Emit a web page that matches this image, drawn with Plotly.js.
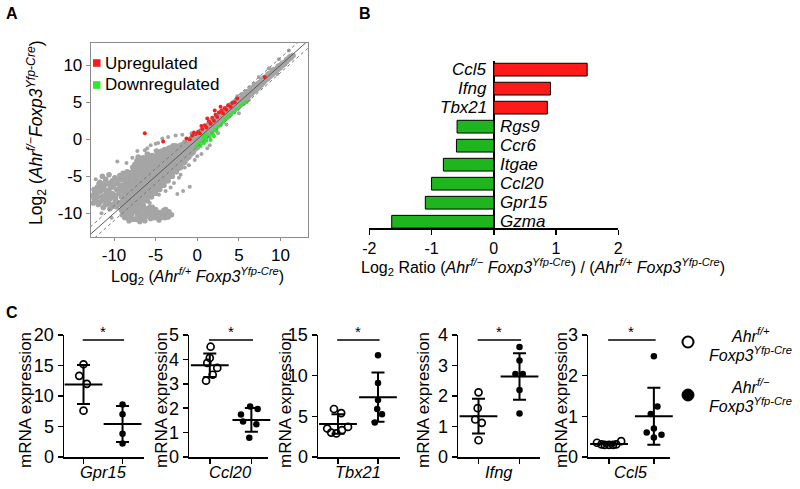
<!DOCTYPE html>
<html>
<head>
<meta charset="utf-8">
<script src="https://cdn.plot.ly/plotly-3.0.1.min.js"></script>
<style>html,body{margin:0;padding:0;background:#fff;}#chart{width:800px;height:489px;}</style>
</head>
<body>
<div id="chart"></div>
<script>
// ---------------- Panel A data (log2 expression, scatter) ----------------
const grayBand = [
[-9.0,-10.2],[-9.1,-9.6],[-8.9,-9.0],[-9.0,-8.4],[-9.1,-7.8],[-8.9,-7.0],[-9.0,-6.2],[-9.1,-5.4],[-8.9,-4.6],
[-8.5,-10.0],[-8.6,-9.3],[-8.4,-8.7],[-8.5,-8.1],[-8.6,-7.4],[-8.4,-6.7],[-8.5,-6.0],[-8.6,-5.2],[-8.4,-4.4],
[-8.0,-10.0],[-8.1,-9.3],[-7.9,-8.6],[-8.0,-8.0],[-8.1,-7.3],[-7.9,-6.6],[-8.0,-5.9],[-8.1,-5.2],[-7.9,-4.5],
[-7.5,-9.8],[-7.6,-9.0],[-7.4,-8.3],[-7.5,-7.6],[-7.6,-6.9],[-7.4,-6.2],[-7.5,-5.5],[-7.6,-4.8],[-7.4,-4.1],[-7.5,-3.4],
[-7.0,-9.4],[-7.1,-8.6],[-6.9,-7.9],[-7.0,-7.2],[-7.1,-6.5],[-6.9,-5.8],[-7.0,-5.1],[-7.1,-4.4],[-6.9,-3.7],[-7.0,-3.0],[-7.1,-2.4],
[-6.5,-8.9],[-6.6,-8.1],[-6.4,-7.4],[-6.5,-6.7],[-6.6,-6.0],[-6.4,-5.3],[-6.5,-4.6],[-6.6,-3.9],[-6.4,-3.2],[-6.5,-2.5],
[-6.0,-8.3],[-6.1,-7.6],[-5.9,-6.9],[-6.0,-6.2],[-6.1,-5.5],[-5.9,-4.8],[-6.0,-4.1],[-6.1,-3.4],[-5.9,-2.7],[-6.0,-2.0],
[-5.5,-7.8],[-5.6,-7.1],[-5.4,-6.4],[-5.5,-5.7],[-5.6,-5.0],[-5.4,-4.3],[-5.5,-3.6],[-5.6,-2.9],[-5.4,-2.2],
[-5.0,-7.3],[-5.1,-6.6],[-4.9,-5.9],[-5.0,-5.2],[-5.1,-4.5],[-4.9,-3.8],[-5.0,-3.1],[-5.1,-2.4],[-4.9,-1.6],
[-4.5,-6.8],[-4.6,-6.1],[-4.4,-5.4],[-4.5,-4.8],[-4.6,-4.2],[-4.4,-3.6],[-4.5,-3.0],[-4.6,-2.3],[-4.4,-1.7],
[-4.0,-6.2],[-4.1,-5.6],[-3.9,-5.0],[-4.0,-4.4],[-4.1,-3.8],[-3.9,-3.2],[-4.0,-2.6],[-4.1,-2.0],[-3.9,-1.4],
[-3.5,-5.6],[-3.6,-5.0],[-3.4,-4.4],[-3.5,-3.9],[-3.6,-3.4],[-3.4,-2.9],[-3.5,-2.3],[-3.6,-1.7],[-3.4,-1.2],
[-3.0,-5.0],[-3.1,-4.4],[-2.9,-3.9],[-3.0,-3.4],[-3.1,-2.9],[-2.9,-2.4],[-3.0,-1.9],[-3.1,-1.4],[-2.9,-0.9],
[-2.5,-4.4],[-2.6,-3.8],[-2.4,-3.3],[-2.5,-2.8],[-2.6,-2.4],[-2.4,-1.9],[-2.5,-1.4],[-2.6,-0.9],
[-2.0,-3.8],[-2.1,-3.2],[-1.9,-2.7],[-2.0,-2.2],[-2.1,-1.8],[-1.9,-1.3],[-2.0,-0.8],
[-1.5,-3.1],[-1.6,-2.6],[-1.4,-2.1],[-1.5,-1.7],[-1.6,-1.3],[-1.4,-0.8],[-1.5,-0.4],
[-1.0,-2.4],[-1.1,-1.9],[-0.9,-1.5],[-1.0,-1.1],[-1.1,-0.7],[-0.9,-0.3],
[-0.5,-1.8],[-0.6,-1.3],[-0.4,-0.9],[-0.5,-0.5],[-0.6,-0.1],[-0.4,0.3],
[0.0,-1.1],[-0.1,-0.6],[0.1,-0.2],[0.0,0.2],[-0.1,0.6],
[0.5,-0.4],[0.4,0.0],[0.6,0.4],[0.5,0.8],[0.4,1.1],
[1.0,0.2],[0.9,0.6],[1.1,1.0],[1.0,1.3],[0.9,1.6],
[1.5,0.8],[1.4,1.2],[1.6,1.5],[1.5,1.8],[1.4,2.1],
[2.0,1.3],[1.9,1.7],[2.1,2.0],[2.0,2.3],[1.9,2.6],
[2.5,1.9],[2.4,2.2],[2.6,2.5],[2.5,2.8],[2.4,3.1],
[3.0,2.4],[2.9,2.7],[3.1,3.0],[3.0,3.3],[2.9,3.6],
[3.5,2.9],[3.4,3.2],[3.6,3.5],[3.5,3.8],[3.4,4.1],
[4.0,3.4],[3.9,3.7],[4.1,4.0],[4.0,4.3],[3.9,4.6],
[4.5,4.0],[4.4,4.3],[4.6,4.5],[4.5,4.8],[4.4,5.0],
[5.0,4.5],[4.9,4.8],[5.1,5.0],[5.0,5.2],[4.9,5.5],
[5.5,5.0],[5.4,5.3],[5.6,5.5],[5.5,5.8],[5.4,6.0],
[6.0,5.6],[5.9,5.8],[6.1,6.0],[6.0,6.2],[5.9,6.4],
[6.5,6.1],[6.4,6.3],[6.6,6.5],[6.5,6.7],[6.4,6.9],
[7.0,6.6],[6.9,6.8],[7.1,7.0],[7.0,7.2],[6.9,7.4],
[7.5,7.1],[7.4,7.3],[7.6,7.5],[7.5,7.7],
[8.0,7.7],[7.9,7.9],[8.1,8.1],[8.0,8.3],
[8.5,8.2],[8.4,8.4],[8.6,8.6],[8.5,8.8],
[9.0,8.7],[8.9,8.9],[9.1,9.1],[9.0,9.3],
[9.5,9.2],[9.4,9.4],[9.6,9.6],
[10.0,9.7],[9.9,9.9],[10.1,10.1],
[10.5,10.2],[10.6,10.5],[11.0,10.8],[11.1,11.1],[11.5,11.3],
[-8.75,-9.7],[-8.75,-9.0],[-8.75,-8.3],[-8.75,-7.6],[-8.75,-6.9],[-8.75,-6.2],[-8.75,-5.5],[-8.75,-4.8],
[-8.25,-9.6],[-8.25,-8.9],[-8.25,-8.2],[-8.25,-7.5],[-8.25,-6.8],[-8.25,-6.1],[-8.25,-5.4],[-8.25,-4.7],
[-7.75,-9.4],[-7.75,-8.7],[-7.75,-8.0],[-7.75,-7.3],[-7.75,-6.6],[-7.75,-5.9],[-7.75,-5.2],[-7.75,-4.5],[-7.75,-3.8],
[-7.25,-9.1],[-7.25,-8.4],[-7.25,-7.7],[-7.25,-7.0],[-7.25,-6.3],[-7.25,-5.6],[-7.25,-4.9],[-7.25,-4.2],[-7.25,-3.5],[-7.25,-2.9],
[-6.75,-8.7],[-6.75,-8.0],[-6.75,-7.3],[-6.75,-6.6],[-6.75,-5.9],[-6.75,-5.2],[-6.75,-4.5],[-6.75,-3.8],[-6.75,-3.1],[-6.75,-2.6],
[-6.25,-8.2],[-6.25,-7.5],[-6.25,-6.8],[-6.25,-6.1],[-6.25,-5.4],[-6.25,-4.7],[-6.25,-4.0],[-6.25,-3.3],[-6.25,-2.6],
[-5.75,-7.7],[-5.75,-7.0],[-5.75,-6.3],[-5.75,-5.6],[-5.75,-4.9],[-5.75,-4.2],[-5.75,-3.5],[-5.75,-2.8],[-5.75,-2.2],
[-5.25,-7.2],[-5.25,-6.5],[-5.25,-5.8],[-5.25,-5.1],[-5.25,-4.4],[-5.25,-3.7],[-5.25,-3.0],[-5.25,-2.3],
[-4.75,-6.7],[-4.75,-6.0],[-4.75,-5.4],[-4.75,-4.8],[-4.75,-4.2],[-4.75,-3.5],[-4.75,-2.8],[-4.75,-2.1],
[-4.25,-6.2],[-4.25,-5.6],[-4.25,-5.0],[-4.25,-4.4],[-4.25,-3.8],[-4.25,-3.2],[-4.25,-2.6],[-4.25,-2.0],[-4.25,-1.6],
[-3.75,-5.6],[-3.75,-5.0],[-3.75,-4.5],[-3.75,-3.9],[-3.75,-3.3],[-3.75,-2.7],[-3.75,-2.1],[-3.75,-1.5],
[-3.25,-5.0],[-3.25,-4.5],[-3.25,-3.9],[-3.25,-3.4],[-3.25,-2.9],[-3.25,-2.4],[-3.25,-1.8],[-3.25,-1.2],
[-2.75,-4.4],[-2.75,-3.9],[-2.75,-3.4],[-2.75,-2.9],[-2.75,-2.4],[-2.75,-1.9],[-2.75,-1.4],[-2.75,-1.0],
[-2.25,-3.9],[-2.25,-3.3],[-2.25,-2.8],[-2.25,-2.4],[-2.25,-2.0],[-2.25,-1.5],[-2.25,-1.0],
[-1.75,-3.2],[-1.75,-2.7],[-1.75,-2.3],[-1.75,-1.9],[-1.75,-1.5],[-1.75,-1.1],[-1.75,-0.7],
[-1.25,-2.6],[-1.25,-2.1],[-1.25,-1.7],[-1.25,-1.3],[-1.25,-0.9],[-1.25,-0.5],
[-0.75,-2.0],[-0.75,-1.5],[-0.75,-1.1],[-0.75,-0.7],[-0.75,-0.3],[-0.75,0.1],
[-0.25,-1.3],[-0.25,-0.9],[-0.25,-0.5],[-0.25,-0.1],[-0.25,0.3],
[0.25,-0.7],[0.25,-0.3],[0.25,0.1],[0.25,0.5],[0.25,0.8],
[0.75,-0.1],[0.75,0.3],[0.75,0.7],[0.75,1.0],[0.75,1.3],
[1.25,0.5],[1.25,0.9],[1.25,1.2],[1.25,1.5],[1.25,1.8],
[1.75,1.1],[1.75,1.4],[1.75,1.7],[1.75,2.0],[1.75,2.3],
[2.25,1.6],[2.25,1.9],[2.25,2.2],[2.25,2.5],[2.25,2.8],
[2.75,2.2],[2.75,2.5],[2.75,2.7],[2.75,3.0],[2.75,3.3],
[3.25,2.7],[3.25,3.0],[3.25,3.2],[3.25,3.5],[3.25,3.8],
[3.75,3.2],[3.75,3.5],[3.75,3.7],[3.75,4.0],[3.75,4.3],
[4.25,3.8],[4.25,4.0],[4.25,4.2],[4.25,4.5],[4.25,4.7],
[4.75,4.3],[4.75,4.5],[4.75,4.7],[4.75,5.0],[4.75,5.2],
[5.25,4.8],[5.25,5.0],[5.25,5.3],[5.25,5.5],
[5.75,5.3],[5.75,5.6],[5.75,5.8],[5.75,6.0],
[6.25,5.9],[6.25,6.1],[6.25,6.3],[6.25,6.5],
[6.75,6.4],[6.75,6.6],[6.75,6.8],[6.75,7.0],
[7.25,6.9],[7.25,7.1],[7.25,7.3],[7.25,7.5],
[7.75,7.4],[7.75,7.6],[7.75,7.8],[7.75,8.0],
[8.25,8.0],[8.25,8.2],[8.25,8.4],[8.75,8.5],[8.75,8.7],[8.75,8.9],
[9.25,9.0],[9.25,9.2],[9.25,9.4],[9.75,9.5],[9.75,9.7],[9.75,9.9],
[10.25,10.0],[10.25,10.3],[10.75,10.5],[10.75,10.8],[11.25,11.0],[11.25,11.2]
];
const grayBlob = [
[-12.3,-7.2],[-12.0,-6.5],[-12.0,-7.8],[-11.7,-5.8],[-11.6,-7.0],[-11.5,-8.3],[-11.2,-6.3],[-11.1,-7.6],[-11.0,-5.4],[-10.8,-8.7],
[-10.7,-6.9],[-10.5,-5.9],[-10.4,-8.0],[-10.3,-7.3],[-10.1,-6.4],[-10.0,-9.0],[-9.9,-5.2],[-9.8,-7.8],[-9.7,-6.8],[-9.6,-8.5],
[-11.9,-8.8],[-12.4,-8.0],[-11.3,-9.2],[-10.6,-4.8],[-9.5,-6.0],[-10.9,-6.0],[-11.8,-6.0],[-10.2,-8.8],[-12.6,-7.6],[-11.4,-5.0],
[-12.2,-6.9],[-11.4,-7.7],[-10.9,-7.2],[-10.0,-7.5],[-9.6,-5.5],[-12.5,-8.6],[-11.0,-8.2],[-10.5,-9.4],
[-12.4,-6.8],[-12.1,-7.4],[-11.8,-7.1],[-11.6,-6.4],[-11.3,-6.8],[-11.1,-5.9],[-10.9,-7.9],[-10.6,-7.6],[-10.4,-6.5],[-10.2,-5.6],
[-10.0,-6.1],[-9.8,-8.3],[-11.7,-8.5],[-12.2,-8.3],[-11.0,-8.8],[-10.7,-8.4],[-10.3,-9.1],[-9.7,-9.1],[-9.4,-7.3],[-9.4,-8.8],
[-9.3,-4.9],[-9.3,-6.6],
[-8.7,-10.6],[-8.4,-9.6],[-8.2,-11.0],[-7.9,-10.2],[-7.6,-9.5],[-7.4,-10.8],[-7.1,-9.9],[-6.8,-10.5],[-6.6,-9.4],[-6.3,-11.0],
[-6.1,-10.0],[-5.8,-9.6],[-5.6,-10.7],[-5.3,-10.1],[-5.0,-9.5],[-4.8,-10.6],[-4.5,-9.9],[-4.2,-10.4],[-4.0,-9.6],[-3.7,-10.1],
[-3.4,-9.8],[-8.9,-9.8],[-8.0,-10.7],[-7.3,-9.3],[-6.9,-11.1],[-6.0,-9.4],[-5.4,-9.2],[-4.6,-10.9],[-3.9,-10.6],[-3.1,-10.2],
[-8.6,-10.1],[-8.3,-10.4],[-7.8,-9.7],[-7.7,-10.8],[-7.2,-10.4],[-6.9,-9.8],[-6.5,-10.2],[-6.2,-9.7],[-5.9,-10.4],[-5.5,-9.9],
[-5.2,-10.6],[-4.9,-10.1],[-4.4,-10.6],[-4.1,-9.9],[-3.8,-9.5],[-3.5,-10.5],[-8.1,-9.8],[-7.0,-10.9],[-6.4,-10.6],[-5.7,-9.2]
];
const grayOutliers = [
[-9.6,-3.0],[-8.5,-3.2],[-7.2,-1.6],[-6.3,-1.5],[-5.6,-0.8],[-5.0,-0.6],[-4.2,0.1],[-3.5,0.3],[-2.6,0.5],[-1.8,0.6],
[-7.8,-2.5],[-6.0,-1.2],[-4.7,-0.5],[-3.2,-6.5],[-2.2,-5.2],[-1.0,-3.5],[0.5,-2.0],[1.5,-0.8],[-2.0,-4.8],[-1.5,-3.8],
[2.5,0.8],[3.5,2.0],[-0.3,-2.8],[4.8,5.8],[8.6,9.6],[9.6,8.8],[11.0,12.0],[-11.5,-10.0],[-10.3,-10.6],[-12.2,-5.4],
[-4.6,-7.5],[-5.7,-8.6],[-3.8,-7.0],[-6.4,-9.0],[1.2,-1.2],[0.0,-2.3],[-2.8,-5.9],[-0.7,0.8],[5.0,3.5],[6.2,5.3],
[7.4,8.4],[9.8,10.8],[-0.9,-6.4],[-2.4,-7.4],[-1.7,-7.0]
];
const upPts = [
[-6.3,0.8],[-4.1,-0.3],[8.1,8.4],
[-1.3,0.1],[-0.9,0.0],[-0.6,0.5],[-0.2,0.7],[0.1,1.0],[0.3,0.8],[0.6,1.4],[0.9,1.9],[1.1,1.6],[1.4,2.4],
[1.6,2.1],[1.8,2.9],[2.0,2.5],[2.2,3.3],[2.4,3.0],[2.6,3.6],[2.9,3.9],[3.1,3.5],[3.3,4.2],[3.5,4.0],
[3.7,4.6],[4.0,4.4],[4.2,4.9],[4.5,5.0],[4.8,5.5],[1.2,2.8],[2.1,3.9],[0.5,1.8],[-0.4,0.9],[2.8,4.4]
];
const downPts = [
[-0.1,-1.0],[0.2,-0.6],[0.4,-0.9],[0.6,-0.3],[0.8,-0.5],[0.9,0.0],[1.1,-0.2],[1.3,0.4],[1.5,0.3],[1.7,0.9],
[1.9,0.6],[2.1,1.3],[2.3,1.1],[2.5,1.7],[2.8,1.9],[3.1,2.3],[3.4,2.7],[3.7,3.1],[4.0,3.3],[4.4,3.6],
[4.8,4.1],[5.2,4.5],[5.6,4.8],[5.9,5.0],[1.0,0.5],[1.6,-0.1],[0.7,0.3],[2.0,0.4]
];
const foldOffsets = [-1, 0, 1];
const tickValsA = [-10, -5, 0, 5, 10];
const tickTextA = ['-10', '-5', '0', '5', '10'];

// ---------------- Panel B data ----------------
const genesB = ['Ccl5', 'Ifng', 'Tbx21', 'Rgs9', 'Ccr6', 'Itgae', 'Ccl20', 'Gpr15', 'Gzma'];
const ratioB = [1.50, 0.91, 0.86, -0.59, -0.60, -0.81, -1.00, -1.10, -1.64];
const tickValsB = [-2, -1, 0, 1, 2];
const tickTextB = ['-2', '-1', '0', '1', '2'];

// ---------------- Panel C data ----------------
const genesC = ['Gpr15', 'Ccl20', 'Tbx21', 'Ifng', 'Ccl5'];
const yMaxC = [20, 5, 15, 4, 3];
const yDtickC = [5, 1, 5, 1, 1];
const wtVals = [
  [15.2, 13.3, 12.0, 7.6],
  [4.52, 4.06, 3.86, 3.65, 3.37, 3.13],
  [5.9, 5.4, 3.5, 3.7, 3.3, 2.9, 3.0],
  [2.12, 1.60, 1.23, 1.12, 0.55],
  [0.35, 0.31, 0.30, 0.30, 0.30, 0.31, 0.39]
];
const wtJitter = [
  [0, -0.11, 0.085, 0],
  [0.02, 0, -0.06, 0.18, 0.07, -0.09],
  [-0.1, 0.08, -0.27, 0.25, 0.1, -0.04, -0.17],
  [0, -0.02, -0.08, 0.08, 0],
  [-0.27, -0.17, -0.1, 0, 0.09, 0.16, 0.27]
];
const koVals = [
  [8.6, 7.0, 3.8, 2.2],
  [2.07, 1.97, 1.74, 1.45, 1.34, 0.79],
  [12.5, 9.1, 7.0, 5.9, 5.25, 4.25],
  [3.61, 3.16, 2.72, 2.72, 2.20, 1.43],
  [2.48, 1.24, 1.06, 0.70, 0.60, 0.55, 0.48]
];
const koJitter = [
  [0, 0, 0, 0],
  [-0.03, 0.15, -0.25, -0.2, 0.12, -0.05],
  [0, 0, 0, -0.02, 0.1, -0.08],
  [0, 0, -0.1, 0.08, 0, 0],
  [0, 0.08, -0.07, 0, -0.16, 0.17, 0]
];
const wtMean = [11.9, 3.76, 4.05, 1.34, 0.32];
const wtSD = [3.2, 0.48, 1.2, 0.57, 0.03];
const koMean = [5.4, 1.52, 7.36, 2.64, 1.0];
const koSD = [2.95, 0.49, 3.02, 0.76, 0.70];

// ---------------- layout helpers ----------------
const W = 800, H = 489;
const PX = v => v / W;
const PY = v => 1 - v / H;
const FONT = 'Arial, "Liberation Sans", Helvetica, sans-serif';
const RED = '#ff1a1a', GREEN_A = '#2ee82e', GREEN_B = '#1fb51f';

const traces = [];
const annotations = [];
const shapes = [];

// ---- Panel A ----
[[grayBand, 5.6], [grayBlob, 5.6], [grayOutliers, 4]].forEach(([pts, sz]) => {
  traces.push({
    type: 'scatter', mode: 'markers', xaxis: 'x', yaxis: 'y',
    x: pts.map(p => p[0]), y: pts.map(p => p[1]),
    marker: {color: '#a5a5a5', size: sz}, hoverinfo: 'skip', showlegend: false
  });
});
traces.push({
  type: 'scatter', mode: 'markers', xaxis: 'x', yaxis: 'y',
  x: upPts.map(p => p[0]), y: upPts.map(p => p[1]),
  marker: {color: RED, size: 4}, showlegend: false
});
traces.push({
  type: 'scatter', mode: 'markers', xaxis: 'x', yaxis: 'y',
  x: downPts.map(p => p[0]), y: downPts.map(p => p[1]),
  marker: {color: GREEN_A, size: 4}, showlegend: false
});
foldOffsets.forEach(o => {
  shapes.push({type: 'line', xref: 'x', yref: 'y', x0: -15, y0: -15 + o, x1: 15, y1: 15 + o,
    line: {color: o === 0 ? '#5a5a5a' : '#777', width: 1, dash: o === 0 ? 'solid' : 'dot'}, layer: 'above'});
});
// legend A
[[RED, 63, 'Upregulated'], [GREEN_A, 85, 'Downregulated']].forEach(([c, yy, t]) => {
  shapes.push({type: 'rect', xref: 'paper', yref: 'paper', x0: PX(93), x1: PX(100.5), y0: PY(yy + 3.8), y1: PY(yy - 3.8),
    fillcolor: c, line: {width: 0}});
  annotations.push({xref: 'paper', yref: 'paper', x: PX(103), y: PY(yy), xanchor: 'left', yanchor: 'middle',
    text: t, showarrow: false, font: {size: 17, color: '#000', family: FONT}});
});
annotations.push({xref: 'paper', yref: 'paper', x: PX(197), y: PY(276), xanchor: 'center', yanchor: 'middle', showarrow: false,
  text: 'Log<sub>2</sub> (<i>Ahr</i><sup><i>f/+</i></sup> <i>Foxp3</i><sup><i>Yfp-Cre</i></sup>)', font: {size: 16, color: '#000', family: FONT}});
annotations.push({xref: 'paper', yref: 'paper', x: PX(36), y: PY(133), xanchor: 'center', yanchor: 'middle', showarrow: false, textangle: -90,
  text: 'Log<sub>2</sub> (<i>Ahr</i><sup><i>f/−</i></sup><i>Foxp3</i><sup><i>Yfp-Cre</i></sup>)', font: {size: 17.5, color: '#000', family: FONT}});

// ---- Panel B ----
traces.push({
  type: 'bar', orientation: 'h', xaxis: 'x2', yaxis: 'y2',
  x: ratioB, y: genesB, width: 0.67,
  marker: {color: ratioB.map(v => v > 0 ? RED : GREEN_B), line: {color: '#000', width: 1}},
  showlegend: false
});
genesB.forEach((g, i) => {
  const pos = ratioB[i] > 0;
  annotations.push({xref: 'x2', yref: 'y2', x: 0, y: g, xanchor: pos ? 'right' : 'left', yanchor: 'middle',
    xshift: pos ? -5 : 4, showarrow: false, text: '<i>' + g + '</i>', font: {size: 17, color: '#000', family: FONT}});
});
annotations.push({xref: 'paper', yref: 'paper', x: PX(543), y: PY(267), xanchor: 'center', yanchor: 'middle', showarrow: false,
  text: 'Log<sub>2</sub> Ratio (<i>Ahr</i><sup><i>f/−</i></sup> <i>Foxp3</i><sup><i>Yfp-Cre</i></sup>) / (<i>Ahr</i><sup><i>f/+</i></sup> <i>Foxp3</i><sup><i>Yfp-Cre</i></sup>)',
  font: {size: 16, color: '#000', family: FONT}});

// ---- Panel C ----
const cXdom = [[64, 144], [189, 268], [318, 400], [458, 540], [588, 670]];
const cXrange = [[-0.5, 1.55], [-0.5, 1.4], [-0.5, 1.55], [-0.5, 1.5], [-0.47, 1.36]];
const cYtitleX = [25, 161, 285, 423, 561];
const layoutAxes = {};
genesC.forEach((g, i) => {
  const n = i + 3;
  const xa = 'x' + n, ya = 'y' + n;
  traces.push({type: 'scatter', mode: 'markers', xaxis: xa, yaxis: ya,
    x: wtVals[i].map((v, j) => 0 + wtJitter[i][j]), y: wtVals[i],
    marker: {symbol: 'circle-open', size: 7, color: '#000', line: {width: 1.7, color: '#000'}}, showlegend: false, cliponaxis: false});
  traces.push({type: 'scatter', mode: 'markers', xaxis: xa, yaxis: ya,
    x: koVals[i].map((v, j) => 1 + koJitter[i][j]), y: koVals[i],
    marker: {symbol: 'circle', size: 6.5, color: '#000'}, showlegend: false, cliponaxis: false});
  traces.push({type: 'scatter', mode: 'markers', xaxis: xa, yaxis: ya,
    x: [0, 1], y: [wtMean[i], koMean[i]],
    error_y: {type: 'data', array: [wtSD[i], koSD[i]], visible: true, color: '#000', thickness: 2, width: 6.5},
    marker: {symbol: 'line-ew-open', size: 27, color: '#000', line: {width: 2, color: '#000'}}, showlegend: false, cliponaxis: false});
  layoutAxes['xaxis' + n] = {domain: [PX(cXdom[i][0]), PX(cXdom[i][1])], range: cXrange[i], anchor: ya,
    showline: true, linecolor: '#000', linewidth: 1.5, ticks: 'outside', ticklen: 5, tickwidth: 1.5, tickcolor: '#000',
    tickvals: [0, 1], showticklabels: false, showgrid: false, zeroline: false, fixedrange: true};
  layoutAxes['yaxis' + n] = {domain: [PY(457), PY(335)], range: [0, yMaxC[i]], dtick: yDtickC[i], tick0: 0, anchor: xa,
    showline: true, linecolor: '#000', linewidth: 1.5, ticks: 'outside', ticklen: 5, tickwidth: 1.5, tickcolor: '#000',
    tickfont: {size: 18, color: '#000', family: FONT}, showgrid: false, zeroline: false, fixedrange: true};
  shapes.push({type: 'line', xref: xa, yref: 'paper', x0: -0.02, x1: 1.04, y0: PY(340), y1: PY(340), line: {color: '#000', width: 1.5}});
  annotations.push({xref: xa, yref: 'paper', x: 0.5, y: PY(331), xanchor: 'center', yanchor: 'middle', showarrow: false,
    text: '*', font: {size: 15, color: '#000', family: FONT}});
  annotations.push({xref: xa, yref: 'paper', x: 0.5, y: PY(472), xanchor: 'center', yanchor: 'middle', showarrow: false,
    text: '<i>' + g + '</i>', font: {size: 16.5, color: '#000', family: FONT}});
  annotations.push({xref: 'paper', yref: 'paper', x: PX(cYtitleX[i]), y: PY(400), xanchor: 'center', yanchor: 'middle', showarrow: false,
    textangle: -90, text: 'mRNA expression', font: {size: 17, color: '#000', family: FONT}});
});
// legend C
shapes.push({type: 'circle', xref: 'paper', yref: 'paper', x0: PX(682.5), x1: PX(693.5), y0: PY(347.5), y1: PY(336.5),
  line: {color: '#000', width: 2}, fillcolor: 'rgba(0,0,0,0)'});
shapes.push({type: 'circle', xref: 'paper', yref: 'paper', x0: PX(682), x1: PX(694), y0: PY(401), y1: PY(389),
  line: {color: '#000', width: 1}, fillcolor: '#000'});
[[335, '<i>Ahr</i><sup><i>f/+</i></sup>'], [354, '<i>Foxp3</i><sup><i>Yfp-Cre</i></sup>'],
 [386, '<i>Ahr</i><sup><i>f/−</i></sup>'], [405, '<i>Foxp3</i><sup><i>Yfp-Cre</i></sup>']].forEach(([yy, t]) => {
  annotations.push({xref: 'paper', yref: 'paper', x: PX(750), y: PY(yy), xanchor: 'center', yanchor: 'middle', showarrow: false,
    text: t, font: {size: 16, color: '#000', family: FONT}});
});

// panel letters
[['A', 12, 13], ['B', 365, 13], ['C', 12, 312]].forEach(([t, x, y]) => {
  annotations.push({xref: 'paper', yref: 'paper', x: PX(x), y: PY(y), xanchor: 'center', yanchor: 'middle', showarrow: false,
    text: '<b>' + t + '</b>', font: {size: 16, color: '#000', family: FONT}});
});

const layout = Object.assign({
  width: W, height: H, margin: {l: 0, r: 0, t: 0, b: 0},
  paper_bgcolor: '#fff', plot_bgcolor: 'rgba(0,0,0,0)', showlegend: false,
  font: {family: FONT, color: '#000'},
  xaxis: {domain: [PX(90.7), PX(308)], range: [-12.8, 13.3], anchor: 'y', showline: true, mirror: true,
    linecolor: '#8c8c8c', linewidth: 1, ticks: 'outside', ticklen: 3, tickcolor: '#8c8c8c', tickwidth: 1,
    tickvals: tickValsA, ticktext: tickTextA, tickfont: {size: 17, color: '#000', family: FONT},
    showgrid: false, zeroline: false, fixedrange: true},
  yaxis: {domain: [PY(237), PY(43)], range: [-13.2, 13.0], anchor: 'x', showline: true, mirror: true,
    linecolor: '#8c8c8c', linewidth: 1, ticks: 'outside', ticklen: 4, tickcolor: '#8c8c8c', tickwidth: 1,
    tickvals: tickValsA, ticktext: tickTextA, tickfont: {size: 17, color: '#000', family: FONT},
    showgrid: false, zeroline: false, fixedrange: true},
  xaxis2: {domain: [PX(369.3), PX(618.3)], range: [-2, 2], anchor: 'y2', showline: true, linecolor: '#000', linewidth: 1.5,
    ticks: 'outside', ticklen: 5, tickwidth: 1.5, tickcolor: '#000', tickvals: tickValsB, ticktext: tickTextB,
    tickfont: {size: 16, color: '#000', family: FONT}, showgrid: false, zeroline: true, zerolinecolor: '#000', zerolinewidth: 1.5,
    fixedrange: true},
  yaxis2: {domain: [PY(228), PY(60.7)], range: [8.33, -0.47], type: 'category', anchor: 'x2',
    categoryorder: 'array', categoryarray: genesB,
    showline: false, showticklabels: false, ticks: '', showgrid: false, zeroline: false, fixedrange: true},
  annotations: annotations, shapes: shapes
}, layoutAxes);

Plotly.newPlot('chart', traces, layout, {staticPlot: true, displayModeBar: false});
</script>
</body>
</html>
